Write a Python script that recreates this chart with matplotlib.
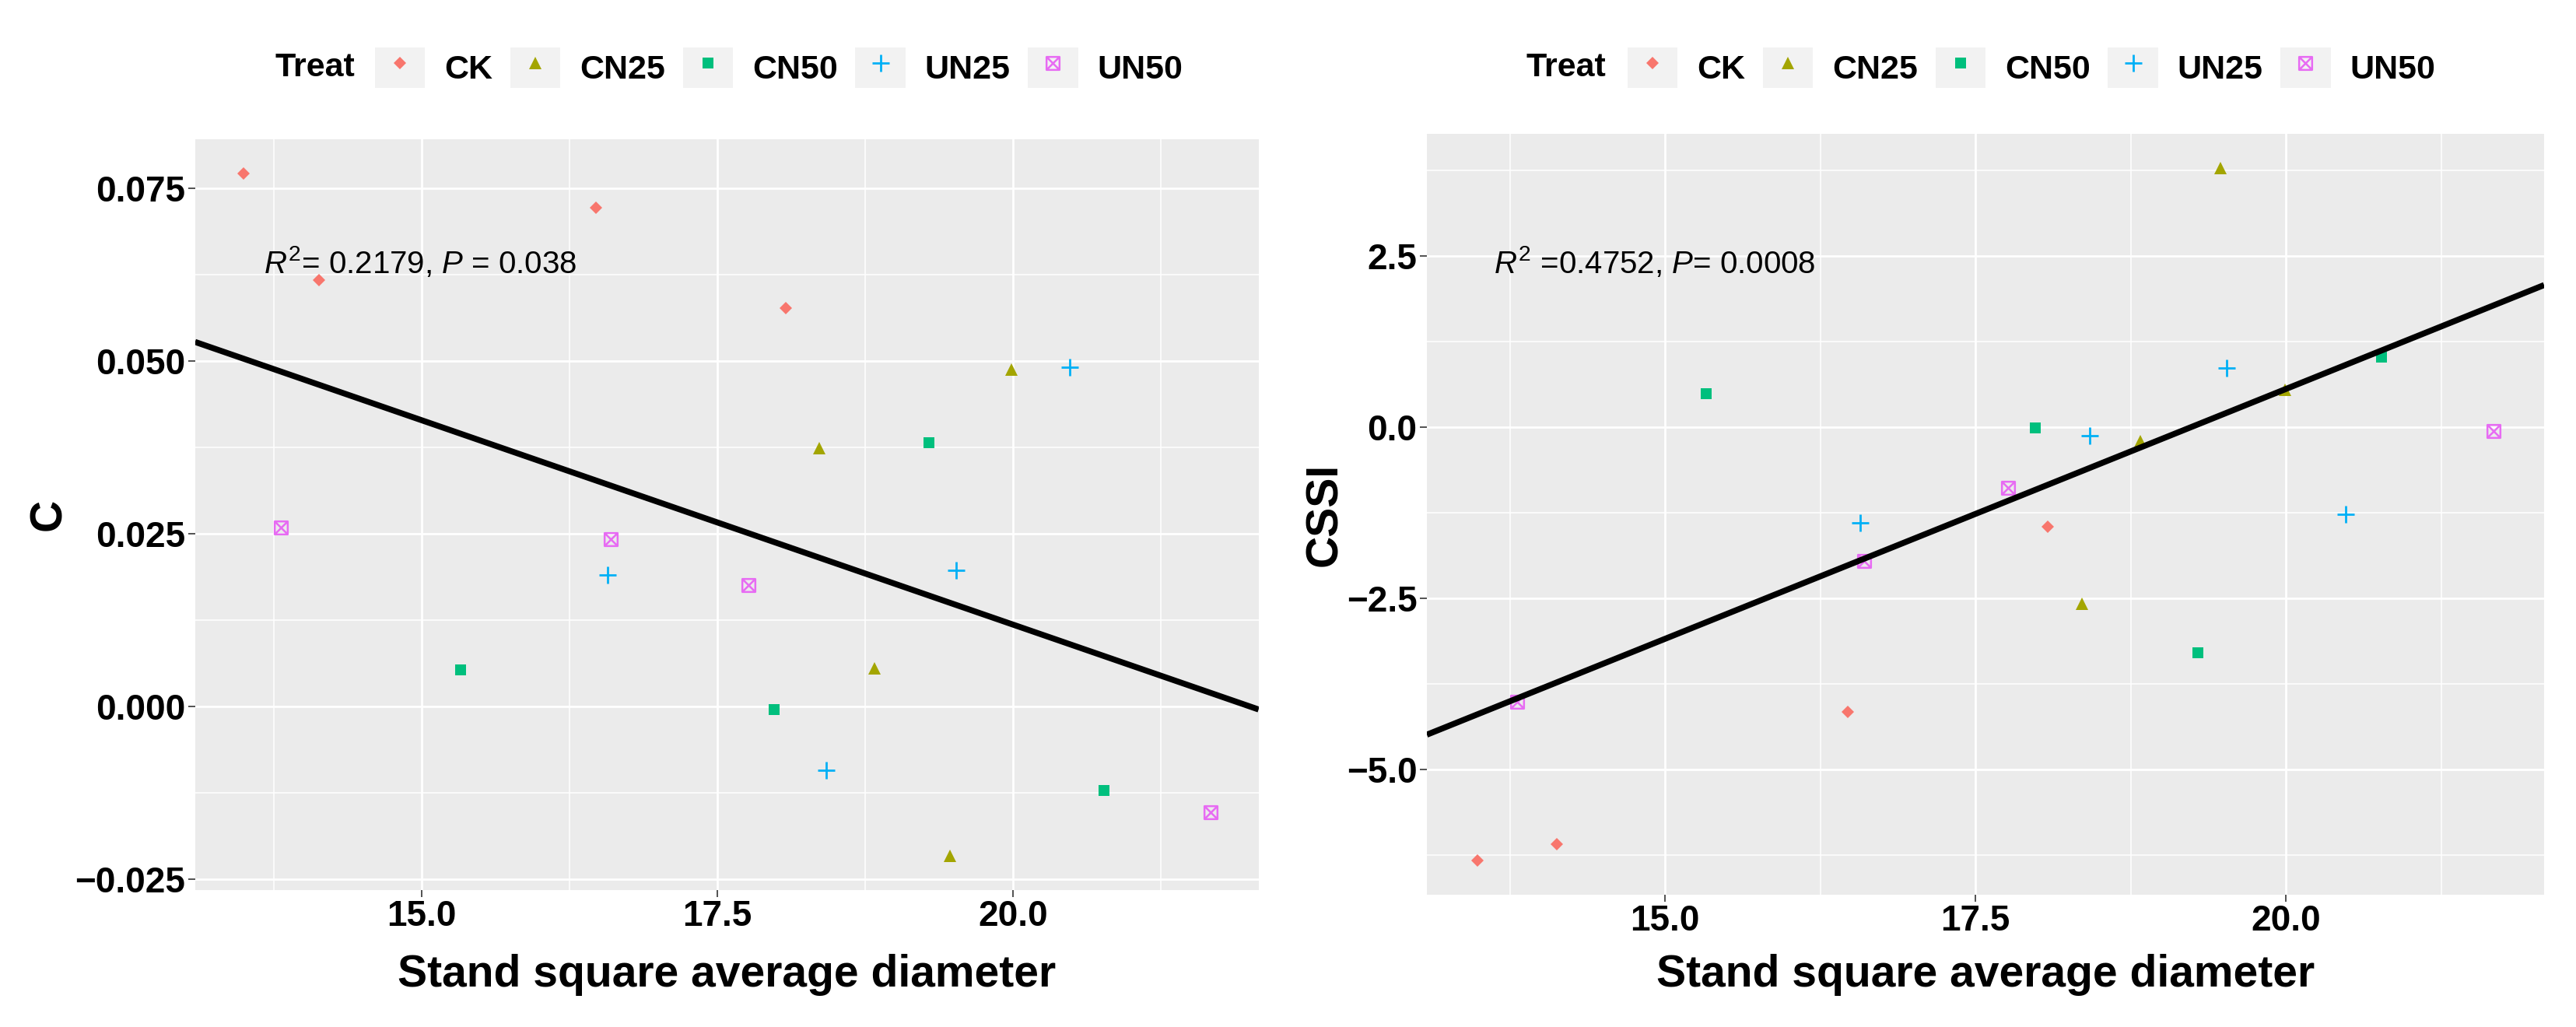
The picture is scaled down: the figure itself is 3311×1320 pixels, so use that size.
import numpy as np
import matplotlib
matplotlib.use("Agg")
import matplotlib.pyplot as plt
from matplotlib.path import Path
from matplotlib.patches import Rectangle
from matplotlib.lines import Line2D
from matplotlib.legend_handler import HandlerTuple
from matplotlib.ticker import AutoMinorLocator

plt.rcParams["font.family"] = ["Liberation Sans", "DejaVu Sans"]
plt.rcParams["mathtext.fontset"] = "custom"
plt.rcParams["mathtext.rm"] = "Liberation Sans"
plt.rcParams["mathtext.it"] = "Liberation Sans:italic"

# --- datos ---
treat = (["CK"] * 4 + ["CN25"] * 4 + ["CN50"] * 4 + ["UN25"] * 4 + ["UN50"] * 4)
diameter = [13.49, 14.13, 16.47, 18.08,
            18.36, 18.83, 19.47, 19.99,
            15.33, 17.98, 19.29, 20.77,
            16.57, 18.42, 19.52, 20.48,
            13.81, 16.60, 17.76, 21.67]
c_index = [0.0771, 0.0617, 0.0721, 0.0576,
           0.0374, 0.0055, -0.0216, 0.0487,
           0.0053, -0.0004, 0.0382, -0.0121,
           0.0190, -0.0092, 0.0197, 0.0491,
           0.0259, 0.0242, 0.0176, -0.0153]
cssi = [-6.32, -6.09, -4.16, -1.45,
        -2.58, -0.20, 3.78, 0.55,
        0.49, -0.01, -3.29, 1.03,
        -1.40, -0.12, 0.86, -1.27,
        -4.01, -1.95, -0.88, -0.06]

# recta de ajuste tal como aparece en la figura (pendiente, intercepto)
c_fit = [-0.005907, 0.1300]
cssi_fit = [0.7296, -14.032]

treat_levels = ["CK", "CN25", "CN50", "UN25", "UN50"]
treat_colors = ["#F8766D", "#A3A500", "#00BF7D", "#00B0F6", "#E76BF3"]

x_ticks = [15.0, 17.5, 20.0]
c_ticks = [-0.025, 0.000, 0.025, 0.050, 0.075]
cssi_ticks = [-5.0, -2.5, 0.0, 2.5]

c_label = r"$R^2$= 0.2179, $P$ = 0.038"
cssi_label = r"$R^2$ =0.4752, $P$= 0.0008"

# cuadrado con aspa (shape 7 de ggplot)
square_cross = Path(
    [(-1, -1), (1, -1), (1, 1), (-1, 1), (-1, -1), (-1, -1), (1, 1), (-1, 1), (1, -1)],
    [Path.MOVETO, Path.LINETO, Path.LINETO, Path.LINETO, Path.CLOSEPOLY,
     Path.MOVETO, Path.LINETO, Path.MOVETO, Path.LINETO])

marker_style = {
    "CK": dict(marker="D", ms=8, mew=0),
    "CN25": dict(marker="^", ms=11, mew=0),
    "CN50": dict(marker="s", ms=10, mew=0),
    "UN25": dict(marker="+", ms=16, mew=2),
    "UN50": dict(marker=square_cross, ms=12, mew=1.8, fillstyle="none"),
}

GRID_BG = "#EBEBEB"
TICK_COL = "#333333"


def fmt(v, nd):
    return f"{v:.{nd}f}".replace("-", "\u2212")


def expand(vals, mult=0.05):
    lo, hi = min(vals), max(vals)
    d = (hi - lo) * mult
    return lo - d, hi + d


def draw_panel(ax, y, fit, y_ticks, nd, ylabel, stat_label, stat_xy, ylab_x, xlab_y):
    x = np.array(diameter)
    y = np.array(y)
    t = np.array(treat)
    ax.set_facecolor(GRID_BG)
    for lvl, col in zip(treat_levels, treat_colors):
        m = t == lvl
        ax.plot(x[m], y[m], linestyle="none", color=col, zorder=3, **marker_style[lvl])

    xlim = expand(diameter)
    ylim = expand(y)
    xs = np.array(xlim)
    ax.plot(xs, fit[0] * xs + fit[1], color="black", lw=5.5, zorder=4,
            solid_capstyle="butt")

    ax.set_xlim(xlim)
    ax.set_ylim(ylim)
    ax.set_xticks(x_ticks, [fmt(v, 1) for v in x_ticks], fontsize=33, fontweight="bold")
    ax.set_yticks(y_ticks, [fmt(v, nd) for v in y_ticks], fontsize=33, fontweight="bold")
    ax.xaxis.set_minor_locator(AutoMinorLocator(2))
    ax.yaxis.set_minor_locator(AutoMinorLocator(2))
    ax.tick_params(which="major", length=6.5, width=1.2, color=TICK_COL, pad=2.5,
                   labelcolor="black")
    ax.tick_params(which="minor", length=0)
    ax.grid(which="major", color="white", lw=2.0)
    ax.grid(which="minor", color="white", lw=1.1)
    ax.set_axisbelow(True)
    for s in ax.spines.values():
        s.set_visible(False)

    ax.set_xlabel("Stand square average diameter", fontsize=41, fontweight="bold")
    ax.xaxis.set_label_coords(0.5, xlab_y)
    ax.set_ylabel(ylabel, fontsize=41, fontweight="bold")
    ax.yaxis.label.set_va("center")
    ax.yaxis.set_label_coords(ylab_x, 0.5)

    ax.text(stat_xy[0], stat_xy[1], stat_label, fontsize=29, va="baseline", ha="left",
            zorder=5)


def add_legend(fig, ax, treat_x, key_x, y):
    handles = []
    for lvl, col in zip(treat_levels, treat_colors):
        bg = Rectangle((0, 0), 1, 1, facecolor="#F2F2F2", edgecolor="none")
        mk = Line2D([], [], linestyle="none", color=col, **marker_style[lvl])
        handles.append((bg, mk))
    fig.text(treat_x, y, "Treat", fontsize=31, fontweight="bold", ha="left", va="center")
    ax.legend(handles, treat_levels, handler_map={tuple: HandlerTuple(ndivide=1, pad=0)},
              ncol=5, loc="center left", bbox_to_anchor=(key_x, y),
              bbox_transform=fig.transFigure, frameon=False, numpoints=1,
              prop={"size": 31, "weight": "bold"}, handlelength=1.49, handleheight=1.49,
              handletextpad=0.58, columnspacing=0.53, borderpad=0, borderaxespad=0)


W, H = 3311, 1320
fig = plt.figure(figsize=(W / 100, H / 100), dpi=100)
ax1 = fig.add_axes([250.7 / W, 1 - 1144 / H, 1367 / W, 965 / H])
ax2 = fig.add_axes([1834 / W, 1 - 1150 / H, 1436 / W, 978 / H])

draw_panel(ax1, c_index, c_fit, c_ticks, 3, "C", c_label, (13.665, 0.0627), -0.137, -0.085)
draw_panel(ax2, cssi, cssi_fit, cssi_ticks, 1, "CSSI", cssi_label, (13.62, 2.25), -0.091, -0.078)

add_legend(fig, ax1, 354 / W, 482 / W, 1 - 87 / H)
add_legend(fig, ax2, 1962 / W, 2092 / W, 1 - 87 / H)

fig.savefig("out.png", dpi=100)
plt.close(fig)
